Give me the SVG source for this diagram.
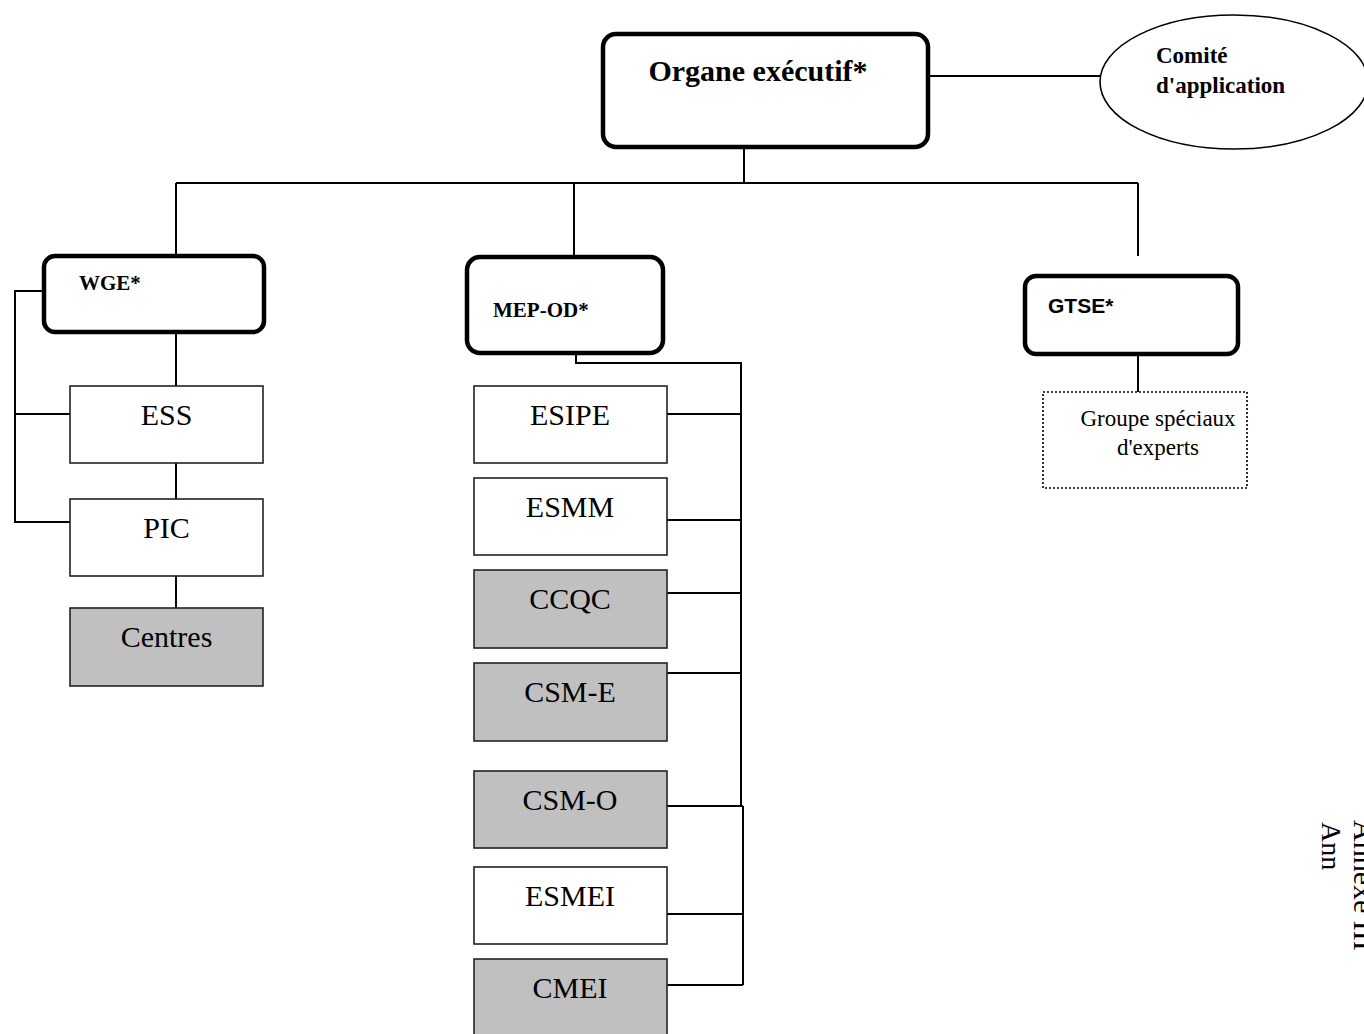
<svg xmlns="http://www.w3.org/2000/svg" width="1364" height="1034" viewBox="0 0 1364 1034">
<style>
.thick{fill:#fff;stroke:#000;stroke-width:4.5}
.box{fill:#fff;stroke:#222;stroke-width:1.6}
.grey{fill:#c0c0c0;stroke:#222;stroke-width:1.6}
.dot{fill:#fff;stroke:#000;stroke-width:1.6;stroke-dasharray:2 2}
.ln{fill:none;stroke:#000;stroke-width:2}
.t{font-family:"Liberation Serif","Times New Roman",serif;font-size:30px;fill:#000;text-anchor:middle}
.tb{font-family:"Liberation Serif","Times New Roman",serif;font-weight:bold;fill:#000}
.ts{font-family:"Liberation Serif","Times New Roman",serif;font-size:23px;fill:#000;text-anchor:middle}
</style>
<rect width="1364" height="1034" fill="#fff"/>
<g id="connectors">
<path class="ln" d="M928 76H1101"/>
<path class="ln" d="M744 148V183M176 183H1138M176 183V256M574 183V256M1138 183V256"/>
<path class="ln" d="M43 291H15V522H70M15 414H70"/>
<path class="ln" d="M176 333V386M176 463V499M176 576V608"/>
<path class="ln" d="M576 354V363H741V806M743 806V985"/>
<path class="ln" d="M667 414H741M667 520H741M667 593H741M667 673H741M667 806H743M667 914H743M667 985H743"/>
<path class="ln" d="M1138 354V392"/>
</g>
<g id="organe">
<rect class="thick" x="603" y="34" width="325" height="113" rx="13"/>
<text class="tb" x="758" y="81" font-size="30" text-anchor="middle">Organe exécutif*</text>
</g>
<g id="comite">
<ellipse cx="1234" cy="82" rx="134" ry="67" fill="#fff" stroke="#000" stroke-width="1.6"/>
<text class="tb" x="1156" y="63" font-size="23">Comité</text>
<text class="tb" x="1156" y="93" font-size="23">d'application</text>
</g>
<g id="wge">
<rect class="thick" x="44" y="256" width="220" height="76" rx="11"/>
<text class="tb" x="79" y="290" font-size="21">WGE*</text>
</g>
<g id="ess">
<rect class="box" x="70" y="386" width="193" height="77"/>
<text class="t" x="166.5" y="425">ESS</text>
</g>
<g id="pic">
<rect class="box" x="70" y="499" width="193" height="77"/>
<text class="t" x="166.5" y="538">PIC</text>
</g>
<g id="centres">
<rect class="grey" x="70" y="608" width="193" height="78"/>
<text class="t" x="166.5" y="647">Centres</text>
</g>
<g id="mepod">
<rect class="thick" x="467" y="257" width="196" height="96" rx="13"/>
<text class="tb" x="493" y="317" font-size="21">MEP-OD*</text>
</g>
<g id="esipe">
<rect class="box" x="474" y="386" width="193" height="77"/>
<text class="t" x="570" y="425">ESIPE</text>
</g>
<g id="esmm">
<rect class="box" x="474" y="478" width="193" height="77"/>
<text class="t" x="570" y="517">ESMM</text>
</g>
<g id="ccqc">
<rect class="grey" x="474" y="570" width="193" height="78"/>
<text class="t" x="570" y="609">CCQC</text>
</g>
<g id="csme">
<rect class="grey" x="474" y="663" width="193" height="78"/>
<text class="t" x="570" y="702">CSM-E</text>
</g>
<g id="csmo">
<rect class="grey" x="474" y="771" width="193" height="77"/>
<text class="t" x="570" y="810">CSM-O</text>
</g>
<g id="esmei">
<rect class="box" x="474" y="867" width="193" height="77"/>
<text class="t" x="570" y="906">ESMEI</text>
</g>
<g id="cmei">
<rect class="grey" x="474" y="959" width="193" height="80"/>
<text class="t" x="570" y="998">CMEI</text>
</g>
<g id="gtse">
<rect class="thick" x="1025" y="276" width="213" height="78" rx="11"/>
<text x="1048" y="313" font-family="'Liberation Sans',Arial,sans-serif" font-weight="bold" font-size="21" fill="#000">GTSE*</text>
</g>
<g id="groupe">
<rect class="dot" x="1043" y="392" width="204" height="96"/>
<text class="ts" x="1158" y="426">Groupe spéciaux</text>
<text class="ts" x="1158" y="455">d'experts</text>
</g>
<g id="annexe">
<text transform="translate(1322,822) rotate(90)" font-family="'Liberation Serif','Times New Roman',serif" font-size="28" fill="#000">Ann</text>
<text transform="translate(1354,820) rotate(90)" font-family="'Liberation Serif','Times New Roman',serif" font-size="30" fill="#000">Annexe III</text>
</g>
</svg>
